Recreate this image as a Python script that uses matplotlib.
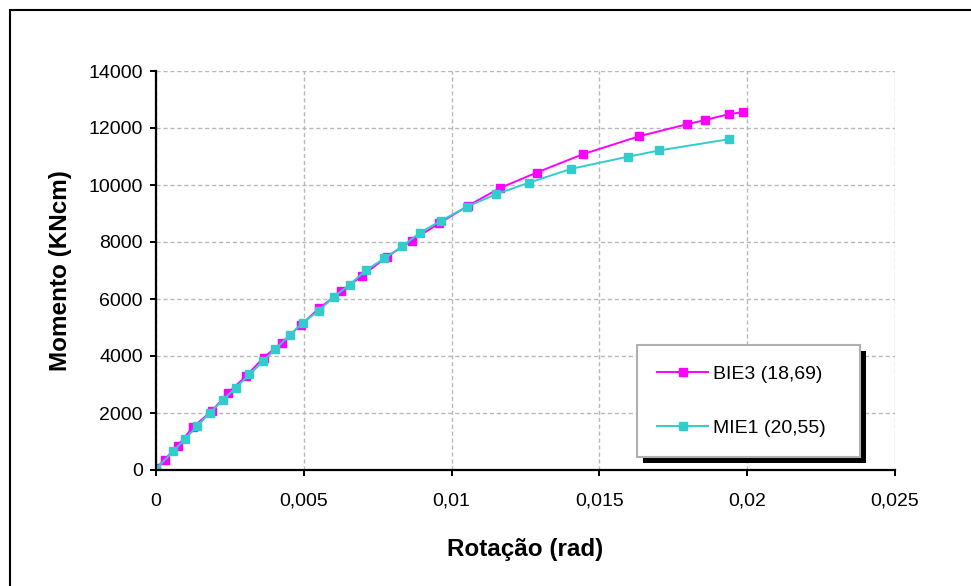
import matplotlib
matplotlib.use("Agg")
import matplotlib.pyplot as plt
from matplotlib.patches import Rectangle
from matplotlib.ticker import FuncFormatter, MultipleLocator
from matplotlib.transforms import IdentityTransform

plt.rcParams['font.family'] = ['Liberation Sans', 'DejaVu Sans']

# Moment-rotation data for the two specimens
bie3_rot = [0.0, 0.000293, 0.000733, 0.001256, 0.001884, 0.002429, 0.003036, 0.003643,
            0.004250, 0.004899, 0.005528, 0.006261, 0.006972, 0.007810, 0.008647, 0.009590,
            0.010553, 0.011621, 0.012877, 0.014447, 0.016353, 0.017965, 0.018572, 0.019389,
            0.019849]
bie3_mom = [60, 368, 854, 1512, 2064, 2695, 3286, 3944,
            4469, 5087, 5679, 6270, 6809, 7480, 8045, 8663,
            9268, 9885, 10437, 11082, 11713, 12133, 12278, 12488,
            12554]

mie1_rot = [0.0, 0.000586, 0.000984, 0.001403, 0.001822, 0.002282, 0.002701, 0.003162,
            0.003622, 0.004041, 0.004523, 0.004962, 0.005507, 0.006009, 0.006554, 0.007098,
            0.007726, 0.008333, 0.008920, 0.009632, 0.010532, 0.011495, 0.012626, 0.014050,
            0.015955, 0.017023, 0.019389]
mie1_mom = [40, 657, 1091, 1551, 2011, 2471, 2892, 3352,
            3812, 4246, 4732, 5166, 5587, 6073, 6507, 7006,
            7427, 7848, 8321, 8742, 9242, 9675, 10083, 10569,
            10990, 11213, 11608]

series_labels = ['BIE3 (18,69)', 'MIE1 (20,55)']
series_colors = ['#FF00FF', '#33CCCC']

fig = plt.figure(figsize=(9.71, 5.86), dpi=100)
fig.patch.set_facecolor('white')

# outer chart frame
fig.patches.append(Rectangle((10 / 971, -0.2), 1.5, 1 - 10 / 586 + 0.2,
                             transform=fig.transFigure, fill=False,
                             edgecolor='black', linewidth=1.5))

ax = fig.add_axes([156 / 971, 116 / 586, 739 / 971, 399 / 586])

for rot, mom, lab, col in zip([bie3_rot, mie1_rot], [bie3_mom, mie1_mom],
                              series_labels, series_colors):
    ax.plot(rot, mom, color=col, lw=1.4, marker='s', ms=5.5,
            mfc=col, mec=col, label=lab, zorder=3)

ax.set_xlim(0, 0.025)
ax.set_ylim(0, 14000)
ax.xaxis.set_major_locator(MultipleLocator(0.005))
ax.yaxis.set_major_locator(MultipleLocator(2000))


def comma_fmt(v, pos):
    if abs(v) < 1e-12:
        return '0'
    s = ('%.3f' % v).rstrip('0').rstrip('.')
    return s.replace('.', ',')


ax.xaxis.set_major_formatter(FuncFormatter(comma_fmt))
ax.yaxis.set_major_formatter(FuncFormatter(lambda v, p: '%d' % v))

ax.grid(True, color='#b8b8b8', linestyle=(0, (3, 2)), linewidth=1.0, zorder=0)
ax.set_axisbelow(True)
for side in ['top', 'right']:
    ax.spines[side].set_visible(False)
for side in ['left', 'bottom']:
    ax.spines[side].set_linewidth(1.6)
    ax.spines[side].set_zorder(4)
ax.tick_params(direction='out', length=4.5, width=1.4, labelsize=14)
ax.tick_params(axis='x', pad=12)
ax.tick_params(axis='y', pad=5)

ax.set_xlabel('Rotação (rad)', fontsize=17.5, fontweight='bold', labelpad=20)
ax.set_ylabel('Momento (KNcm)', fontsize=17.5, fontweight='bold', labelpad=12)

leg = ax.legend(loc='upper left',
                bbox_to_anchor=(637 / 971, (586 - 458) / 586, 223 / 971, 113 / 586),
                bbox_transform=fig.transFigure, mode='expand', fontsize=14,
                frameon=True, fancybox=False, edgecolor='#b0b0b0', framealpha=1,
                borderpad=1.05, labelspacing=1.85, handlelength=2.6,
                handletextpad=0.25, borderaxespad=0)
leg.get_frame().set_linewidth(1.5)
leg.set_zorder(6)

fig.canvas.draw()
bb = leg.get_window_extent()
ax.add_patch(Rectangle((bb.x0 + 6, bb.y0 - 6), bb.width, bb.height,
                       transform=IdentityTransform(), facecolor='black',
                       edgecolor='none', zorder=5.5, clip_on=False))

fig.savefig('out.png', dpi=100, facecolor='white')
